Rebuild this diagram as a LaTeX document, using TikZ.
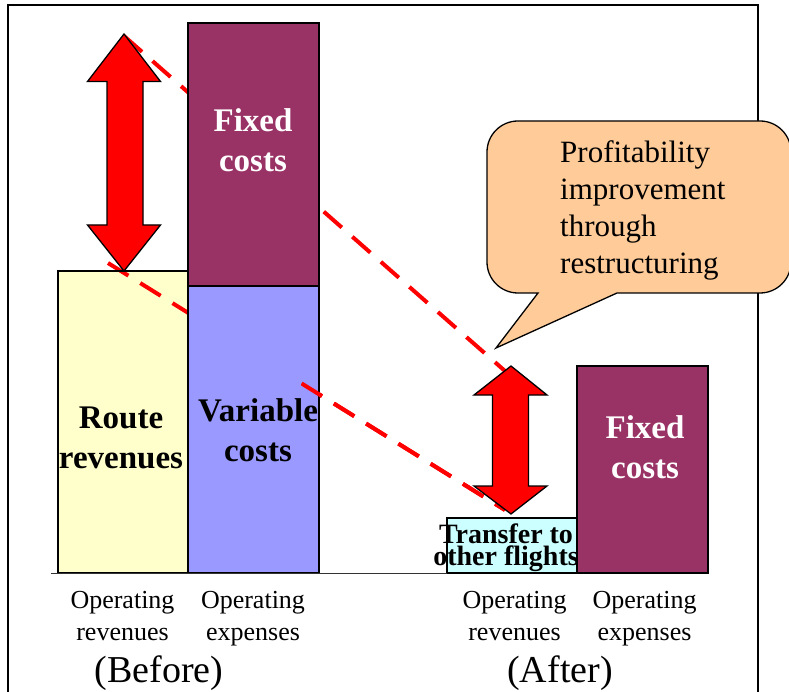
\documentclass[tikz,border=0pt]{standalone}
\usepackage{fontspec}
\setmainfont{Liberation Serif}
\definecolor{revyellow}{HTML}{FFFFCC}
\definecolor{varblue}{HTML}{9999FF}
\definecolor{fixplum}{HTML}{993366}
\definecolor{xfercyan}{HTML}{CCFFFF}
\definecolor{calloutpeach}{HTML}{FFCC99}
\begin{document}
\begin{tikzpicture}[x=1pt,y=-1pt,
  bar/.style={draw=black, line width=1.8pt},
  barlabel/.style={font=\fontsize{33}{40}\selectfont\bfseries, align=center, inner sep=0pt, anchor=base},
  axislabel/.style={font=\fontsize{26}{32}\selectfont, align=center, inner sep=0pt, anchor=base},
  phaselabel/.style={font=\fontsize{38}{44}\selectfont, inner sep=0pt, anchor=base},
  gapline/.style={red, line width=4pt, dash pattern=on 24pt off 14pt},
  bigarrow/.style={fill=red, draw=black, line width=1.3pt, line join=miter},
  callout/.style={fill=calloutpeach, draw=black, line width=1.3pt}]

\useasboundingbox (0,0) rectangle (789,692);
\clip (0,0) rectangle (789,692);

% outer frame
\draw[line width=1.3pt] (8,5) rectangle (758,760);

% ---------- before ----------
\coordinate (Lup)   at (124,34);
\coordinate (Ldown) at (124,271);
\coordinate (Rup)   at (511,366);
\coordinate (Rdown) at (511,514);

\coordinate (g1a) at (124,36);
\coordinate (g1b) at (505,371);
\coordinate (g2a) at (108,263);
\coordinate (g2b) at (505,510);

\fill[revyellow] (58,271) rectangle (188,573);

% gap lines between revenue and cost levels
\draw[gapline] (g1a) -- (g1b);
\draw[gapline] (g2a) -- (g2b);

\draw[bar, fill=varblue] (188,286) rectangle (319,573);
\draw[bar, fill=fixplum] (188,23) rectangle (319,286);
\draw[bar] (58,271) rectangle (188,573);

% multi-line labels are anchored at the baseline of their last line
\node[barlabel, text=white] (fixB) at (253,172) {Fixed\\costs};
\node[barlabel] (varB) at (258,461) {Variable\\costs};
\node[barlabel] (revB) at (121,468) {Route\\revenues};

\begin{scope}
  \clip (301,0) rectangle (789,692);
  \draw[gapline] (g2a) -- (g2b);
\end{scope}

% ---------- after ----------
\draw[bar, fill=xfercyan] (447,518) rectangle (577,573);
\draw[bar, fill=fixplum] (577,366) rectangle (708,573);
\node[barlabel, text=white] (fixA) at (645,478) {Fixed\\costs};
\node[font={\fontsize{28}{22}\selectfont\bfseries\lineskiplimit=-30pt}, align=center, inner sep=0pt, anchor=base] (xfer) at (506,565) {Transfer to\\other flights};

% axis
\draw[line width=0.9pt, black!80] (51,573) -- (447,573);

% axis labels
\node[axislabel] (opRevB) at (122.5,640) {Operating\\revenues};
\node[axislabel] (opExpB) at (253,640) {Operating\\expenses};
\node[axislabel] (opRevA) at (514.5,640) {Operating\\revenues};
\node[axislabel] (opExpA) at (644.5,640) {Operating\\expenses};
\node[phaselabel] (before) at (159,682) {(Before)};
\node[phaselabel] (after) at (560,682) {(After)};

% ---------- double arrows ----------
\draw[bigarrow] (Lup) -- (160.5,81.5) -- (143,81.5) -- (143,225) -- (160.5,225)
  -- (Ldown) -- (87.5,225) -- (107,225) -- (107,81.5) -- (87.5,81.5) -- cycle;
\draw[bigarrow] (Rup) -- (547,395) -- (528.5,395) -- (528.5,486) -- (547,486)
  -- (Rdown) -- (474,486) -- (492.5,486) -- (492.5,395) -- (474,395) -- cycle;

% ---------- callout ----------
\filldraw[callout] (538,293) -- (518,293) arc[start angle=90, end angle=180, radius=31]
  -- (487,152) arc[start angle=180, end angle=270, radius=31]
  -- (760,121) arc[start angle=270, end angle=360, radius=31]
  -- (791,262) arc[start angle=0, end angle=90, radius=31]
  -- (617,293) -- (496,348) -- cycle;
\node[font=\fontsize{31}{37}\selectfont, align=left, inner sep=0pt, anchor=base west] (note) at (560,274)
  {Profitability\\improvement\\through\\restructuring};

\end{tikzpicture}
\end{document}
